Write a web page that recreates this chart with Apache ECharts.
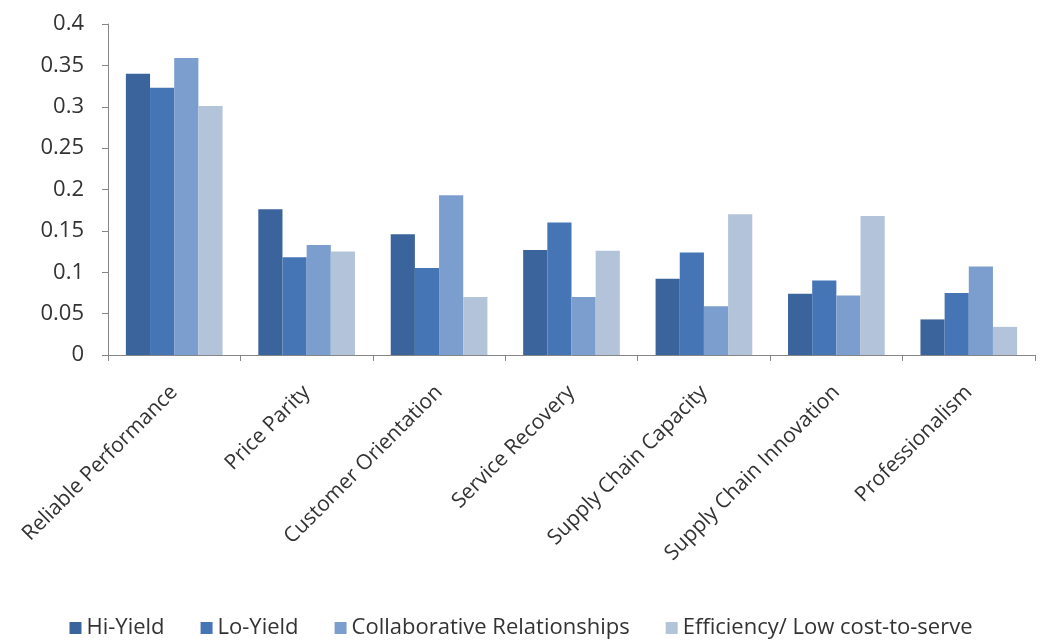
<!DOCTYPE html>
<html>
<head>
<meta charset="utf-8">
<script src="https://cdn.jsdelivr.net/npm/echarts@6/dist/echarts.min.js"></script>
<style>
  html, body { margin: 0; padding: 0; background: #ffffff; }
  #chart { width: 1042px; height: 642px; }
</style>
</head>
<body>
<div id="chart"></div>
<script>
// 分类（x 轴）
const categories = [
  'Reliable Performance',
  'Price Parity',
  'Customer Orientation',
  'Service Recovery',
  'Supply Chain Capacity',
  'Supply Chain Innovation',
  'Professionalism',
];

// 各系列取值
const hiYield       = [0.340, 0.176, 0.146, 0.127, 0.092, 0.074, 0.043];
const loYield       = [0.323, 0.118, 0.105, 0.160, 0.124, 0.090, 0.075];
const collaborative = [0.359, 0.133, 0.193, 0.070, 0.059, 0.072, 0.107];
const efficiency    = [0.301, 0.125, 0.070, 0.126, 0.170, 0.168, 0.034];

const seriesNames = [
  'Hi-Yield',
  'Lo-Yield',
  'Collaborative Relationships',
  'Efficiency/ Low cost-to-serve',
];

// Excel 风格的蓝色系
const COLORS = ['#3c649c', '#4575b5', '#7c9ece', '#b3c3da'];

const FONT = '"Open Sans", "Liberation Sans", sans-serif';
const TEXT = '#333333';
const AXIS_LINE = { lineStyle: { color: '#868686', width: 1 } };

const seriesData = [hiYield, loYield, collaborative, efficiency];

const chart = echarts.init(document.getElementById('chart'));
chart.setOption({
  animation: false,
  color: COLORS,
  grid: { left: 108, right: 7, top: 24, bottom: 287 },
  legend: {
    top: 612,
    left: 'center',
    itemWidth: 12,
    itemHeight: 12,
    itemGap: 36,
    icon: 'rect',
    textStyle: { fontFamily: FONT, fontSize: 22, color: TEXT },
    data: seriesNames,
  },
  xAxis: {
    type: 'category',
    data: categories,
    axisLine: AXIS_LINE,
    axisTick: { show: true, length: 6, alignWithLabel: false, lineStyle: { color: '#868686' } },
    axisLabel: {
      rotate: 45,
      margin: 34,
      interval: 0,
      fontFamily: FONT,
      fontSize: 21,
      color: TEXT,
    },
  },
  yAxis: {
    type: 'value',
    min: 0,
    max: 0.4,
    interval: 0.05,
    axisLine: { show: true, ...AXIS_LINE },
    axisTick: { show: true, length: 6, lineStyle: { color: '#868686' } },
    splitLine: { show: false },
    axisLabel: {
      margin: 24,
      fontFamily: FONT,
      fontSize: 22,
      color: TEXT,
      formatter: (v) => String(+v.toFixed(2)),
    },
  },
  series: seriesData.map((d, i) => ({
    name: seriesNames[i],
    type: 'bar',
    data: d,
    barGap: '0%',
    barCategoryGap: '27%',
    itemStyle: { color: COLORS[i] },
  })),
});
</script>
</body>
</html>
